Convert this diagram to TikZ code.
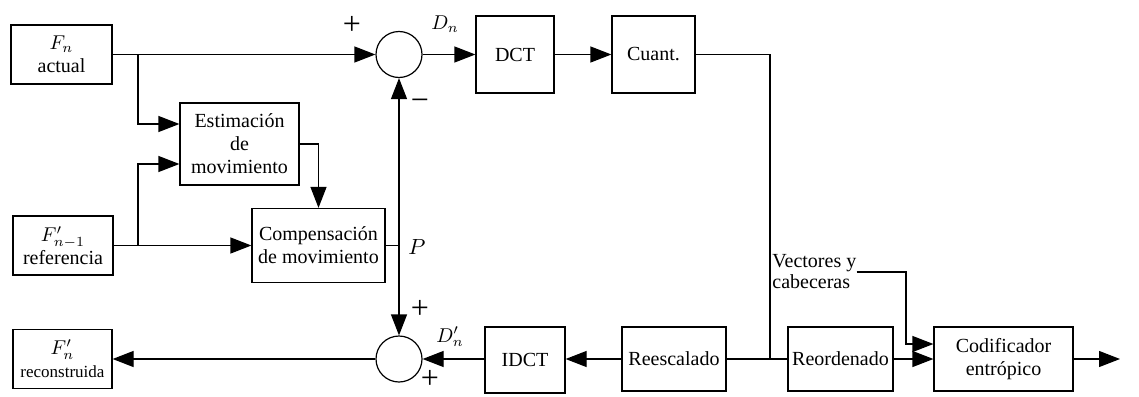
\documentclass[tikz,border=0pt]{standalone}
\usepackage{fontspec}
\setmainfont{Liberation Serif}
\usetikzlibrary{arrows.meta, positioning, calc}

\tikzset{
  blk/.style={draw, line width=0.6pt, inner sep=1pt, align=center,
              font=\fontsize{10}{11.5}\selectfont},
  suma/.style={draw, circle, line width=0.6pt, minimum size=23pt, inner sep=0pt},
  sig/.style={line width=0.6pt},
  flecha/.style={sig, -{Triangle[length=10.5pt,width=8pt]}},
  signo/.style={inner sep=0pt, font=\fontsize{16}{16}\selectfont},
  etiq/.style={inner sep=0pt, font=\fontsize{10}{12}\selectfont},
}

\begin{document}
\begin{tikzpicture}[x=0.5pt, y=-0.5pt]
  % 1 unit = 1 pixel of the 1139x396 frame, y grows downward
  \useasboundingbox (0,0) rectangle (1139,396);

  % Bloques de la izquierda
  \node[blk, minimum width=50.5pt, minimum height=29.5pt] (act) at (61.5,54.5) {$F_n$\\actual};
  \node[blk, minimum width=50pt, minimum height=29.5pt] (ref) at (63,245.5) {$F'_{n-1}$\\referencia};
  \node[blk, minimum width=49.5pt, minimum height=29.5pt] (rec) at (62.5,359)
    {$F'_n$\\{\fontsize{8.5}{10}\selectfont reconstruida}};
  \node[blk, minimum width=59.5pt, minimum height=41pt] (est) at (239.5,144)
    {Estimación\\de\\movimiento};
  \node[blk, minimum width=66.5pt, minimum height=37pt] (comp) at (318.5,245.5)
    {Compensación\\de movimiento};

  % Sumadores
  \node[suma] (s1) at (399,54.5) {};
  \node[suma] (s2) at (399,359) {};

  % Fila superior
  \node[blk, minimum width=39pt, minimum height=38.5pt] (dct) at (515,54.5) {DCT};
  \node[blk, minimum width=41.5pt, minimum height=38.5pt] (cua) at (653.5,54.5) {Cuant.};

  % Fila inferior
  \node[blk, minimum width=40pt, minimum height=33pt] (idct) at (525,360) {IDCT};
  \node[blk, minimum width=52pt, minimum height=32pt] (res) at (674,359) {Reescalado};
  \node[blk, minimum width=52.5pt, minimum height=32pt] (reo) at (840.5,359) {Reordenado};
  \node[blk, minimum width=69.5pt, minimum height=32pt] (cod) at (1003.5,359)
    {Codificador\\entrópico};
  \node[etiq, anchor=west, align=left, font=\fontsize{10}{10.5}\selectfont] (vec) at (772,272)
    {Vectores y\\cabeceras};

  % Signos y etiquetas
  \node[signo] (mas1) at (352,25) {+};
  \node[signo] (menos1) at (420,105) {−};
  \node[signo] (mas2) at (420,309) {+};
  \node[signo] (mas3) at (430,379) {+};
  \node[etiq] (dn) at (445,24) {$D_n$};
  \node[etiq, font=\fontsize{11}{12}\selectfont] (pe) at (417,247) {$P$};
  \node[etiq] (dpn) at (450,337) {$D'_n$};

  % Conexiones
  \coordinate (ram1) at (138,54.5);
  \coordinate (ram2) at (138,245.5);
  \coordinate (pp) at (399,245.5);
  \coordinate (jun) at (770,359);
  \coordinate (vc) at (906,344);
  \coordinate (sal) at (1120,359);

  \draw[flecha] (act.east) -- (s1.west);
  \draw[flecha] (ram1) |- ([yshift=10pt]est.west);
  \draw[flecha] (ref.east) -- (comp.west);
  \draw[flecha] (ram2) |- ([yshift=-10pt]est.west);
  \draw[flecha] (est.east) -| (comp.north);
  \draw[sig] (comp.east) -- (pp);
  \draw[flecha] (pp) -- (s1.south);
  \draw[flecha] (pp) -- (s2.north);
  \draw[flecha] (s1.east) -- (dct.west);
  \draw[flecha] (dct.east) -- (cua.west);
  \draw[sig] (cua.east) -| (jun);
  \draw[sig] (res.east) -- (reo.west);
  \draw[flecha] (res.west) -- (res.west -| idct.east);
  \draw[flecha] (idct.west |- s2) -- (s2.east);
  \draw[flecha] (s2.west) -- (rec.east);
  \draw[flecha] (reo.east) -- (cod.west);
  \draw[flecha] (vec.east) -- (vec.east -| vc) |- ([yshift=7.5pt]cod.west);
  \draw[flecha] (cod.east) -- (sal);
\end{tikzpicture}
\end{document}
